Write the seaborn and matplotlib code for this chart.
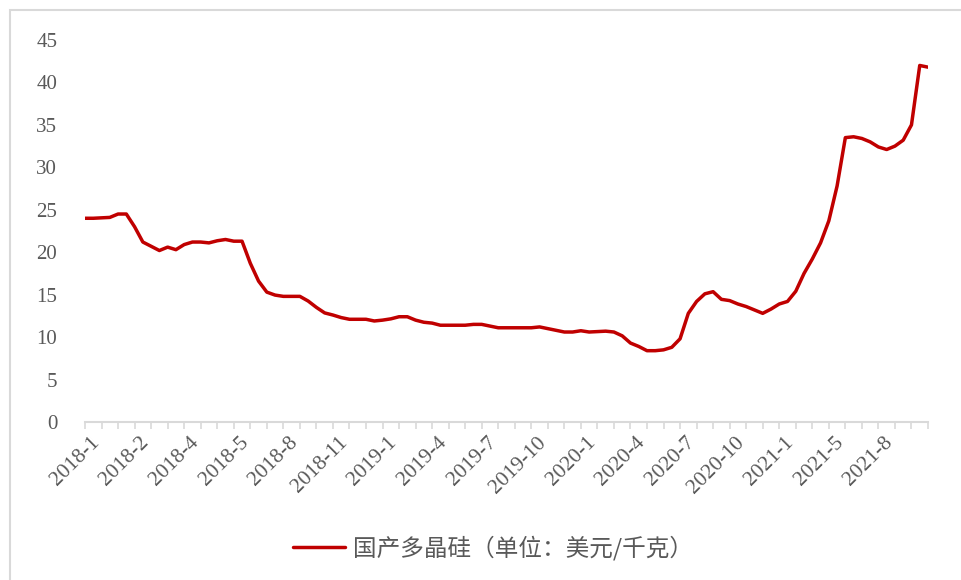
import matplotlib
matplotlib.use('Agg')
import matplotlib.pyplot as plt
import matplotlib.transforms as mtransforms
import numpy as np
import pandas as pd
import seaborn as sns
from matplotlib.patches import Rectangle

# 国产多晶硅价格（美元/千克），按类别轴等距取点
prices = [24.0, 24.0, 24.05, 24.1, 24.5, 24.5, 23.0, 21.2, 20.7, 20.2,
          20.6, 20.3, 20.9, 21.2, 21.2, 21.1, 21.35, 21.5, 21.3, 21.3,
          18.7, 16.6, 15.3, 14.95, 14.8, 14.8, 14.8, 14.25, 13.5, 12.85,
          12.6, 12.3, 12.1, 12.1, 12.1, 11.9, 12.0, 12.15, 12.4, 12.4,
          12.0, 11.75, 11.65, 11.4, 11.4, 11.4, 11.4, 11.5, 11.5, 11.3,
          11.1, 11.1, 11.1, 11.1, 11.1, 11.2, 11.0, 10.8, 10.6, 10.6,
          10.75, 10.6, 10.65, 10.7, 10.6, 10.15, 9.3, 8.9, 8.4, 8.4,
          8.5, 8.8, 9.8, 12.8, 14.2, 15.1, 15.35, 14.45, 14.3, 13.9,
          13.6, 13.2, 12.8, 13.3, 13.9, 14.2, 15.4, 17.5, 19.2, 21.1,
          23.7, 27.8, 33.5, 33.6, 33.4, 33.0, 32.4, 32.1, 32.5, 33.2,
          35.0, 42.0, 41.8]

tick_labels = ['2018-1', '2018-2', '2018-4', '2018-5', '2018-8', '2018-11',
               '2019-1', '2019-4', '2019-7', '2019-10', '2020-1', '2020-4',
               '2020-7', '2020-10', '2021-1', '2021-5', '2021-8']

series_name = '国产多晶硅（单位：美元/千克）'

df = pd.DataFrame({'idx': np.arange(len(prices)), 'price': prices})

sns.set_style('white')
plt.rcParams['font.family'] = ['Liberation Serif', 'Noto Sans CJK SC', 'DejaVu Sans']

grey = '#595959'
axis_grey = '#d9d9d9'

fig = plt.figure(figsize=(9.62, 5.8), dpi=100)
ax = fig.add_axes([85 / 962, 1 - 422 / 580, 843 / 962, 382 / 580])

sns.lineplot(data=df, x='idx', y='price', ax=ax, color='#C00000',
             linewidth=2.5, label=series_name, legend=False)

n = len(prices)
ax.set_xlim(0, n - 1)
ax.set_ylim(0, 45)
ax.set_yticks(range(0, 46, 5))
ax.set_xticks(np.arange(len(tick_labels)) * 6)
ax.set_xticklabels(tick_labels, rotation=45, ha='right', va='top',
                   rotation_mode='anchor')
ax.set_xticks(np.arange(0, n, 2), minor=True)
ax.set_xlabel('')
ax.set_ylabel('')

for s in ['top', 'right', 'left']:
    ax.spines[s].set_visible(False)
ax.spines['bottom'].set_color(axis_grey)
ax.spines['bottom'].set_linewidth(1.5)

ax.tick_params(axis='y', length=0, pad=20, labelsize=15, labelcolor=grey)
ax.tick_params(axis='x', which='both', direction='out', length=5,
               width=1.2, color=axis_grey, pad=3, labelsize=15.5,
               labelcolor=grey, bottom=True)

# 标签稍向右移，贴近刻度
shift = mtransforms.ScaledTranslation(5 / 100, 0, fig.dpi_scale_trans)
for lab in ax.get_xticklabels():
    lab.set_transform(lab.get_transform() + shift)

handles, labels = ax.get_legend_handles_labels()
leg = fig.legend(handles, labels, loc='center', frameon=False,
                 bbox_to_anchor=(493 / 962, 1 - 548 / 580),
                 handlelength=2.2, handletextpad=0.3,
                 prop={'family': ['Noto Sans CJK SC', 'DejaVu Sans'], 'size': 17})
for t in leg.get_texts():
    t.set_color(grey)

# 外框
fig.patches.append(Rectangle((10 / 962, -0.05), 1.1, 1 - 10 / 580 + 0.05,
                             transform=fig.transFigure, fill=False,
                             edgecolor=axis_grey, linewidth=1.5))

fig.savefig('out.png', dpi=100)
